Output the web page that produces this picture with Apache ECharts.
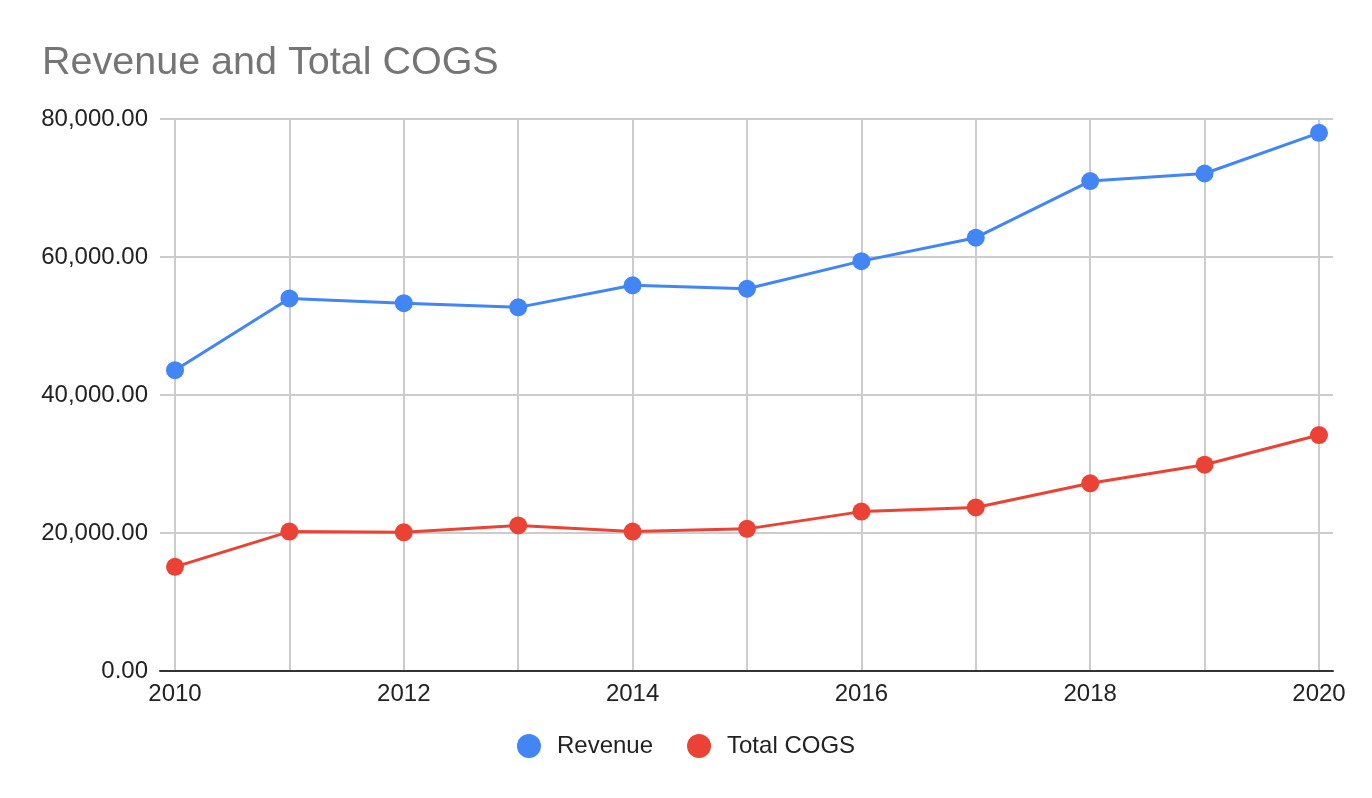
<!DOCTYPE html>
<html>
<head>
<meta charset="utf-8">
<style>
  html, body { margin: 0; padding: 0; background: #fff; }
  #chart { width: 1372px; height: 798px; }
</style>
<script src="https://cdn.jsdelivr.net/npm/echarts@6/dist/echarts.min.js"></script>
</head>
<body>
<div id="chart"></div>
<script>
const years = [2010, 2011, 2012, 2013, 2014, 2015, 2016, 2017, 2018, 2019, 2020];
const revenue = [43600, 54000, 53300, 52700, 55900, 55400, 59400, 62800, 71000, 72100, 78000];
const totalCogs = [15100, 20200, 20100, 21100, 20200, 20600, 23100, 23700, 27200, 29900, 34200];
const seriesNames = ['Revenue', 'Total COGS'];
const colors = ['#4285F4', '#EA4335'];

const font = 'Liberation Sans, Arial, sans-serif';
const myChart = echarts.init(document.getElementById('chart'));

const fmt = (v) => v.toLocaleString('en-US', { minimumFractionDigits: 2, maximumFractionDigits: 2 });

const makeLine = (name, values, color) => ({
  name: name,
  type: 'line',
  xAxisIndex: 0,
  yAxisIndex: 0,
  data: years.map((y, i) => [y, values[i]]),
  symbol: 'circle',
  symbolSize: 18,
  lineStyle: { width: 3, color: color },
  itemStyle: { color: color },
  z: 3
});

const option = {
  animation: false,
  textStyle: { fontFamily: font },
  title: {
    text: 'Revenue and Total COGS',
    left: 37,
    top: 38,
    textStyle: { fontFamily: font, fontSize: 39.5, fontWeight: 'normal', color: '#757575' }
  },
  legend: {
    data: seriesNames,
    left: 'center',
    top: 729,
    icon: 'circle',
    itemWidth: 24,
    itemHeight: 24,
    itemGap: 34,
    textStyle: { fontFamily: font, fontSize: 24, color: '#222', padding: [0, 0, 0, 11] }
  },
  grid: [
    { left: 175, right: 53, top: 119, bottom: 127 },
    { left: 160, right: 39, top: 119, bottom: 127 }
  ],
  xAxis: [
    {
      type: 'value',
      gridIndex: 0,
      min: 2010,
      max: 2020,
      interval: 1,
      axisLine: { show: false },
      axisTick: { show: false },
      splitLine: { show: true, lineStyle: { color: '#cccccc', width: 2 } },
      axisLabel: {
        margin: 11,
        fontFamily: font,
        fontSize: 24,
        color: '#222',
        formatter: (v) => (v % 2 === 0 ? String(v) : '')
      }
    },
    {
      type: 'value',
      gridIndex: 1,
      min: 2010,
      max: 2020,
      axisLine: { show: true, lineStyle: { color: '#333333', width: 2 } },
      axisTick: { show: false },
      axisLabel: { show: false },
      splitLine: { show: false }
    }
  ],
  yAxis: [
    {
      type: 'value',
      gridIndex: 0,
      min: 0,
      max: 80000,
      interval: 20000,
      axisLine: { show: false },
      axisTick: { show: false },
      splitLine: { show: false },
      axisLabel: {
        margin: 27,
        fontFamily: font,
        fontSize: 24,
        color: '#222',
        formatter: fmt
      }
    },
    {
      type: 'value',
      gridIndex: 1,
      min: 0,
      max: 80000,
      interval: 20000,
      axisLine: { show: false },
      axisTick: { show: false },
      axisLabel: { show: false },
      splitLine: { show: true, lineStyle: { color: '#cccccc', width: 2 } }
    }
  ],
  series: [
    makeLine(seriesNames[0], revenue, colors[0]),
    makeLine(seriesNames[1], totalCogs, colors[1])
  ]
};

option && myChart.setOption(option);
</script>
</body>
</html>
